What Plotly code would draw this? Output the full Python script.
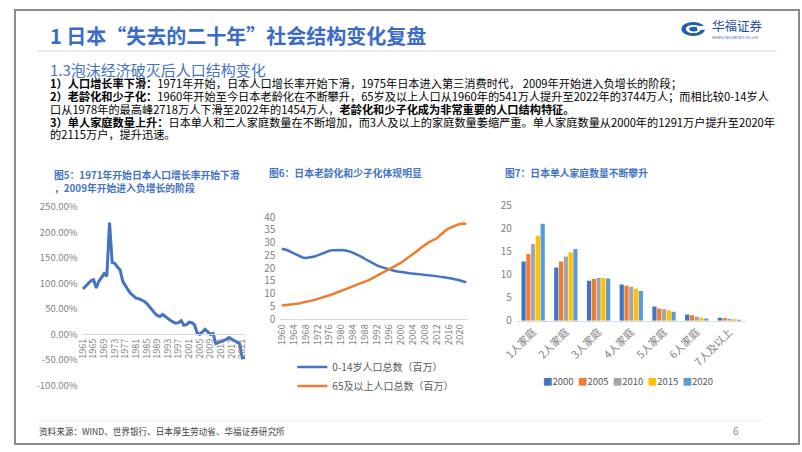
import plotly.graph_objects as go

W, H = 802, 452
def px(x): return x / W
def py(y): return 1 - y / H

FONT = "Noto Sans CJK SC"
BLUE_T = "#3A6BC8"

# ---------------- data ----------------
growth_years = list(range(1961, 2023))
growth_rate = [89, 95, 101, 105, 107, 91, 104, 112, 119, 114,
               219, 141, 139, 132, 126, 104, 94, 87, 80, 75,
               71, 70, 68, 65, 61, 54, 48, 42, 37, 35,
               39, 35, 30, 27, 24, 22, 23, 27, 18, 19,
               24, 23, 19, 3, 0, 5, 10, 5, 0, 2,
               -18, -16, -14, -13, -10, -6, -9, -13, -15, -18,
               -46, -45]
growth_ticks = list(range(1961, 2022, 4))
growth_yticks = [-100, -50, 0, 50, 100, 150, 200, 250]
growth_yticktext = ["-100.00%", "-50.00%", "0.00%", "50.00%", "100.00%", "150.00%", "200.00%", "250.00%"]

pop_years = list(range(1960, 2023))
pop_child = [27.6, 27.4, 27.0, 26.4, 25.8, 25.2, 24.6, 24.2, 24.0, 24.1,
             24.3, 24.6, 25.0, 25.5, 26.0, 26.5, 26.8, 27.0, 27.1, 27.1,
             27.1, 27.0, 26.8, 26.5, 26.0, 25.5, 24.9, 24.3, 23.6, 22.9,
             22.3, 21.7, 21.1, 20.6, 20.2, 19.8, 19.5, 19.2, 18.9, 18.7,
             18.6, 18.4, 18.2, 18.0, 17.9, 17.7, 17.6, 17.5, 17.4, 17.3,
             17.2, 17.0, 16.9, 16.7, 16.6, 16.4, 16.2, 16.0, 15.8, 15.5,
             15.2, 14.8, 14.5]
pop_elder = [5.4, 5.5, 5.6, 5.8, 5.9, 6.1, 6.3, 6.5, 6.8, 7.0,
             7.3, 7.6, 7.9, 8.2, 8.6, 9.0, 9.4, 9.8, 10.2, 10.7,
             11.2, 11.6, 12.0, 12.5, 13.0, 13.4, 13.8, 14.2, 14.7, 15.2,
             15.8, 16.4, 17.0, 17.6, 18.3, 18.9, 19.5, 20.1, 20.8, 21.4,
             22.1, 22.9, 23.7, 24.6, 25.5, 26.3, 27.2, 28.2, 29.1, 29.8,
             30.5, 30.9, 31.6, 32.7, 33.8, 34.7, 35.5, 36.1, 36.6, 37.0,
             37.3, 37.5, 37.4]
pop_ticks = list(range(1960, 2021, 4))
pop_names = ["0-14岁人口总数（百万）", "65及以上人口总数（百万）"]

hh_cats = ["1人家庭", "2人家庭", "3人家庭", "4人家庭", "5人家庭", "6人家庭", "7人及以上"]
hh_years = ["2000", "2005", "2010", "2015", "2020"]
hh_2000 = [12.9, 11.6, 8.7, 7.9, 3.1, 1.4, 0.7]
hh_2005 = [14.5, 12.9, 9.1, 7.6, 2.7, 1.2, 0.6]
hh_2010 = [16.7, 14.0, 9.3, 7.4, 2.5, 0.9, 0.45]
hh_2015 = [18.5, 14.9, 9.3, 7.0, 2.3, 0.7, 0.35]
hh_2020 = [21.1, 15.6, 9.2, 6.5, 2.0, 0.5, 0.25]
hh_values = [hh_2000, hh_2005, hh_2010, hh_2015, hh_2020]
hh_colors = ["#4472C4", "#ED7D31", "#A5A5A5", "#FFC000", "#5B9BD5"]

# ---------------- figure ----------------
fig = go.Figure()

fig.add_trace(go.Scatter(x=growth_years, y=growth_rate, mode="lines",
                         line=dict(color="#4472C4", width=3),
                         xaxis="x", yaxis="y", showlegend=False))

fig.add_trace(go.Scatter(x=pop_years, y=pop_child, mode="lines", name=pop_names[0],
                         line=dict(color="#4472C4", width=2.5),
                         xaxis="x2", yaxis="y2", legend="legend2"))
fig.add_trace(go.Scatter(x=pop_years, y=pop_elder, mode="lines", name=pop_names[1],
                         line=dict(color="#ED7D31", width=2.5),
                         xaxis="x2", yaxis="y2", legend="legend2"))

for yr, vals, col in zip(hh_years, hh_values, hh_colors):
    fig.add_trace(go.Bar(x=hh_cats, y=vals, name=yr, marker=dict(color=col, line=dict(width=0)),
                         xaxis="x3", yaxis="y3", showlegend=False))

tickfont = dict(family=FONT, size=9.5, color="#7f7f7f")
axis_common = dict(showgrid=False, zeroline=False, ticks="")

fig.update_layout(
    width=W, height=H,
    margin=dict(l=0, r=0, t=0, b=0),
    paper_bgcolor="white", plot_bgcolor="white",
    font=dict(family=FONT, color="#404040"),
    bargap=0.27, bargroupgap=0.12, barmode="group",
    xaxis=dict(domain=[px(69), px(237)], anchor="free", position=py(337),
               range=[1960.5, 2022.5], tickvals=growth_ticks, tickangle=-90,
               tickfont=dict(family=FONT, size=9, color="#7f7f7f"),
               showline=True, linecolor="#d9d9d9", linewidth=1, **axis_common),
    yaxis=dict(domain=[py(390.3), py(205)], anchor="free", position=px(69),
               range=[-100, 250], tickvals=growth_yticks, ticktext=growth_yticktext,
               tickfont=tickfont, ticklabelstandoff=4, showline=False, **axis_common),
    xaxis2=dict(domain=[px(271.7), px(463)], anchor="y2",
                range=[1959.5, 2022.5], tickvals=pop_ticks, tickangle=-90,
                tickfont=dict(family=FONT, size=9.5, color="#7f7f7f"),
                showline=True, linecolor="#d9d9d9", linewidth=1, **axis_common),
    yaxis2=dict(domain=[py(321.7), py(215.7)], anchor="x2",
                range=[0, 40], dtick=5, tickfont=dict(family=FONT, size=10, color="#7f7f7f"),
                ticklabelstandoff=4, showline=False, **axis_common),
    xaxis3=dict(domain=[px(513), px(746.7)], anchor="y3", tickangle=-45,
                tickfont=dict(family=FONT, size=10.5, color="#7f7f7f"),
                showline=True, linecolor="#d9d9d9", linewidth=1, **axis_common),
    yaxis3=dict(domain=[py(323.3), py(204)], anchor="x3",
                range=[0, 25], dtick=5, tickfont=dict(family=FONT, size=10, color="#7f7f7f"),
                ticklabelstandoff=4, showline=False, **axis_common),
    legend2=dict(x=px(284), y=py(356), xanchor="left", yanchor="top",
                 font=dict(family=FONT, size=10, color="#595959"),
                 bgcolor="rgba(0,0,0,0)", itemwidth=30, tracegroupgap=0),
)

ann = []
def text(x, y, s, size, color="#000000", anchor="left", bold=False, yanchor="middle"):
    ann.append(dict(x=px(x), y=py(y), xref="paper", yref="paper", text=(f"<b>{s}</b>" if bold else s),
                    showarrow=False, xanchor=anchor, yanchor=yanchor, align="left", borderpad=0,
                    font=dict(family=FONT, size=size, color=color)))

# title
text(36, 27, "1 日本“失去的二十年”社会结构变化复盘", 20, BLUE_T, bold=True)
# logo text
text(711, 17.5, "华福证券", 12.5, "#1F4E9C")
text(711.5, 29.5, "HUAFU SECURITIES CO.,LTD", 3.6, "#1F4E9C")
# subtitle & body
text(36, 63, "1.3泡沫经济破灭后人口结构变化", 15, "#4472C4")
body = [
    "<b>1）人口增长率下滑：</b>1971年开始，日本人口增长率开始下滑，1975年日本进入第三消费时代， 2009年开始进入负增长的阶段；",
    "<b>2）老龄化和少子化：</b>1960年开始至今日本老龄化在不断攀升，65岁及以上人口从1960年的541万人提升至2022年的3744万人；而相比较0-14岁人",
    "口从1978年的最高峰2718万人下滑至2022年的1454万人，<b>老龄化和少子化成为非常重要的人口结构特征。</b>",
    "<b>3）单人家庭数量上升：</b>日本单人和二人家庭数量在不断增加，而3人及以上的家庭数量萎缩严重。单人家庭数量从2000年的1291万户提升至2020年",
    "的2115万户，提升迅速。",
]
for i, line in enumerate(body):
    text(36, 76.5 + i * 13.4, line, 11.2, "#000000")

# chart titles
text(40, 164, "图5：1971年开始日本人口增长率开始下滑<br>，2009年开始进入负增长的阶段", 9.8, "#4472C4",
     bold=True, yanchor="top")
text(259.5, 170, "图6：日本老龄化和少子化体现明显", 9.8, "#4472C4", bold=True)
text(500, 170, "图7：日本单人家庭数量不断攀升", 9.8, "#4472C4", bold=True)

# chart 3 legend
leg = "  ".join(f"<span style='color:{c}'>■</span>{y}" for y, c in zip(hh_years, hh_colors))
text(626, 386, leg, 9.5, "#595959", anchor="center")

# footer
text(24, 438, "资料来源：WIND、世界银行、日本厚生劳动省、华福证券研究所", 8.6, "#404040")
text(737, 437, "6", 10, "#8c8c8c", anchor="center")

shapes = [
    dict(type="line", xref="paper", yref="paper", x0=px(23), x1=px(778), y0=py(43.5), y1=py(43.5),
         line=dict(color="#d9d9d9", width=1)),
    dict(type="line", xref="paper", yref="paper", x0=px(23), x1=px(765), y0=py(427), y1=py(427),
         line=dict(color="#eeeeee", width=1)),
    # logo icon
    dict(type="circle", xref="paper", yref="paper", x0=px(681), x1=px(705), y0=py(28), y1=py(13.5),
         fillcolor="#1F5FAF", line=dict(width=0)),
    dict(type="circle", xref="paper", yref="paper", x0=px(685.5), x1=px(701), y0=py(25), y1=py(16.5),
         fillcolor="white", line=dict(width=0)),
    dict(type="circle", xref="paper", yref="paper", x0=px(689), x1=px(698), y0=py(23.2), y1=py(18.3),
         fillcolor="#1F5FAF", line=dict(width=0)),
    dict(type="rect", xref="paper", yref="paper", x0=px(697), x1=px(705.5), y0=py(21.5), y1=py(17.5),
         fillcolor="white", line=dict(width=0)),
    # slide border
    dict(type="rect", xref="paper", yref="paper", x0=px(1), x1=px(801), y0=py(451), y1=py(1),
         line=dict(color="#8a8a8a", width=2), fillcolor="rgba(0,0,0,0)"),
]

fig.update_layout(annotations=ann, shapes=shapes)

fig.write_html("out.html", config={"displayModeBar": False},
               post_script="document.body.style.margin='0';document.documentElement.style.overflow='hidden';document.body.style.overflow='hidden';")
